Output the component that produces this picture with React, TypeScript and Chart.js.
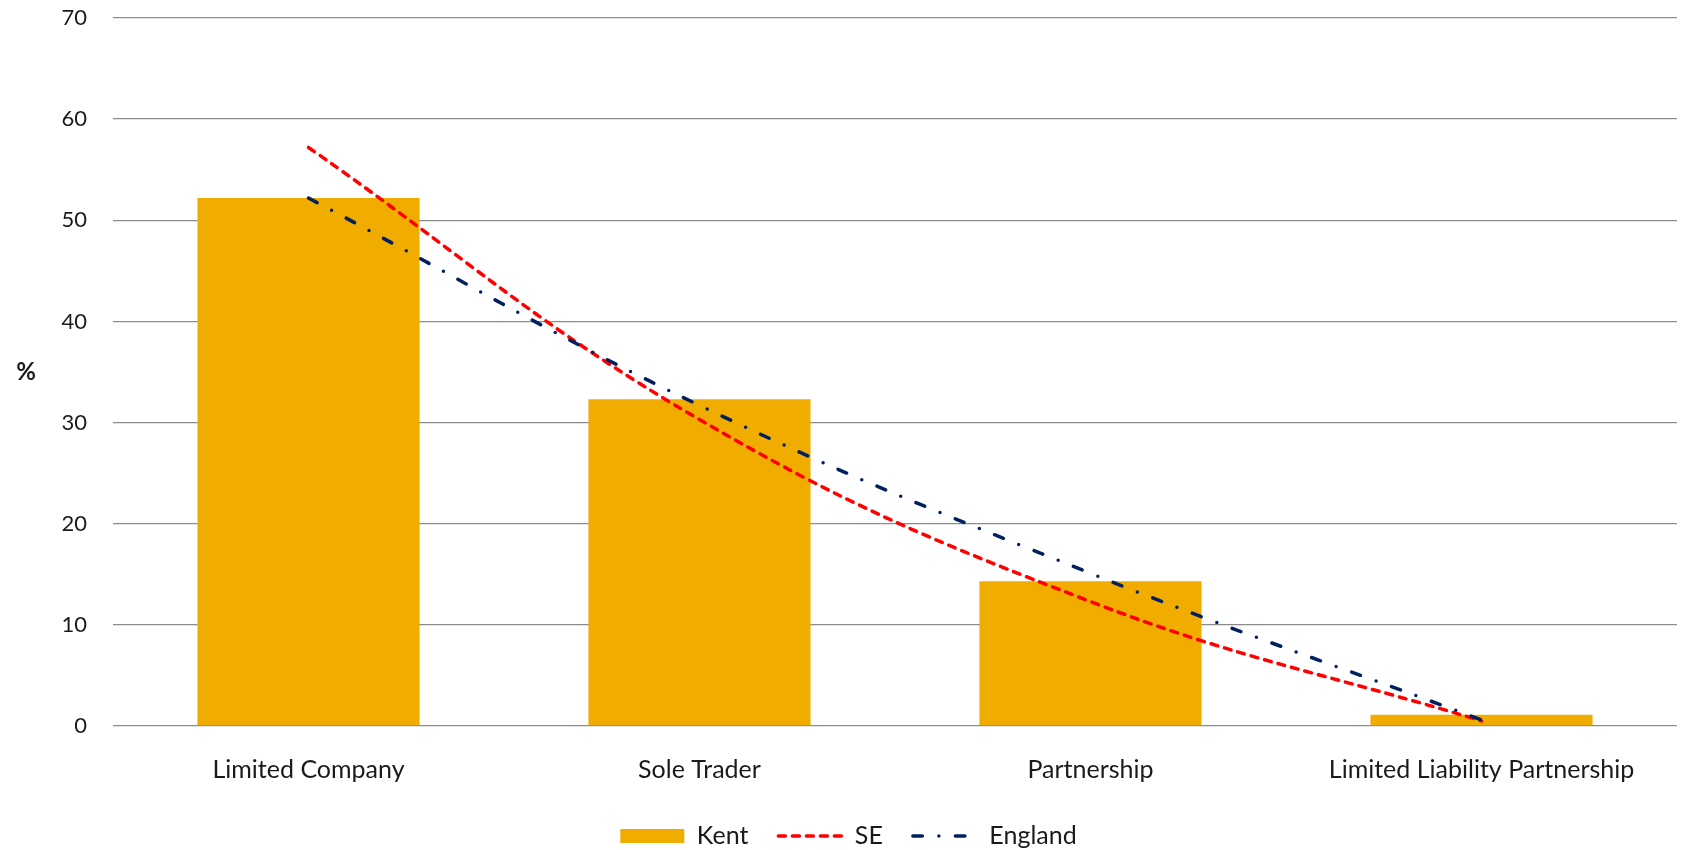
import { useEffect, useRef } from 'react';
import { Chart, registerables } from 'chart.js';

Chart.register(...registerables);

const categories = ['Limited Company', 'Sole Trader', 'Partnership', 'Limited Liability Partnership'];
const kentValues = [52.2, 32.3, 14.3, 1.1];
const seValues = [57.2, 30.3, 12.3, 0.5];
const englandValues = [52.2, 31.7, 15.1, 0.6];
const yMin = 0;
const yMax = 70;
const yStep = 10;

const FONT = 'Lato, "Open Sans", sans-serif';
const TEXT = '#1a1a1a';

const percentPlugin = {
  id: 'percentTitle',
  afterDraw(chart: any) {
    const { ctx, chartArea } = chart;
    ctx.save();
    ctx.font = `bold 24px ${FONT}`;
    ctx.fillStyle = TEXT;
    ctx.textAlign = 'center';
    ctx.textBaseline = 'middle';
    ctx.fillText('%', 26, (chartArea.top + chartArea.bottom) / 2);
    ctx.restore();
  },
};

export default function App() {
  const ref = useRef<HTMLCanvasElement>(null);
  useEffect(() => {
    const chart = new Chart(ref.current as HTMLCanvasElement, {
      type: 'bar',
      data: {
        labels: categories,
        datasets: [
          {
            type: 'bar',
            label: 'Kent',
            data: kentValues,
            backgroundColor: '#F0AD00',
            borderWidth: 0,
            categoryPercentage: 1,
            barPercentage: 0.568,
            order: 3,
          } as any,
          {
            type: 'line',
            label: 'SE',
            data: seValues,
            borderColor: '#FF0000',
            backgroundColor: '#FF0000',
            borderWidth: 3.5,
            borderDash: [7, 7],
            borderCapStyle: 'round',
            pointRadius: 0,
            pointHoverRadius: 0,
            pointStyle: 'line',
            tension: 0.4,
            fill: false,
            order: 2,
          } as any,
          {
            type: 'line',
            label: 'England',
            data: englandValues,
            borderColor: '#002060',
            backgroundColor: '#002060',
            borderWidth: 3.5,
            borderDash: [9.5, 16.5, 0, 16.5],
            borderCapStyle: 'round',
            pointRadius: 0,
            pointHoverRadius: 0,
            pointStyle: 'line',
            tension: 0.4,
            fill: false,
            order: 1,
          } as any,
        ],
      },
      options: {
        animation: false,
        responsive: true,
        maintainAspectRatio: false,
        layout: { padding: { top: 18, right: 4, left: 20, bottom: 0 } },
        plugins: {
          tooltip: { enabled: false },
          legend: {
            position: 'bottom',
            maxHeight: 56.5,
            labels: {
              usePointStyle: true,
              pointStyleWidth: 64,
              boxWidth: 64,
              boxHeight: 14,
              padding: 30,
              color: TEXT,
              font: { family: FONT, size: 25 },
              sort: (a: any, b: any) => a.datasetIndex - b.datasetIndex,
              generateLabels: (c: any) => {
                const items = (Chart.defaults.plugins.legend.labels as any).generateLabels(c);
                items.forEach((it: any) => {
                  const ds: any = c.data.datasets[it.datasetIndex];
                  if (ds.type === 'line') {
                    it.pointStyle = 'line';
                    it.lineDash = ds.borderDash;
                    it.lineWidth = ds.borderWidth;
                    it.strokeStyle = ds.borderColor;
                    it.lineCap = 'round';
                  } else {
                    it.pointStyle = 'rect';
                    it.lineWidth = 0;
                    it.fillStyle = ds.backgroundColor;
                    it.strokeStyle = ds.backgroundColor;
                  }
                });
                return items;
              },
            },
          } as any,
        },
        scales: {
          x: {
            grid: { display: false },
            border: { display: false },
            ticks: {
              color: TEXT,
              font: { family: FONT, size: 25 },
              padding: 21,
              maxRotation: 0,
            },
            afterFit: (s: any) => {
              s.height = 67.5;
            },
          },
          y: {
            min: yMin,
            max: yMax,
            ticks: {
              stepSize: yStep,
              color: TEXT,
              font: { family: FONT, size: 22 },
              padding: 0,
            },
            grid: {
              color: '#8c8c8c',
              lineWidth: 1.3,
              drawTicks: true,
              tickLength: 26,
              tickColor: 'rgba(0,0,0,0)',
              tickWidth: 0,
            },
            border: { display: false },
            afterFit: (s: any) => {
              s.width = 93;
            },
          },
        },
      },
      plugins: [percentPlugin],
    });
    return () => chart.destroy();
  }, []);
  return (
    <div style={{ position: 'absolute', left: 0, top: 0, width: 1681, height: 850, background: '#fff' }}>
      <canvas ref={ref} />
    </div>
  );
}
